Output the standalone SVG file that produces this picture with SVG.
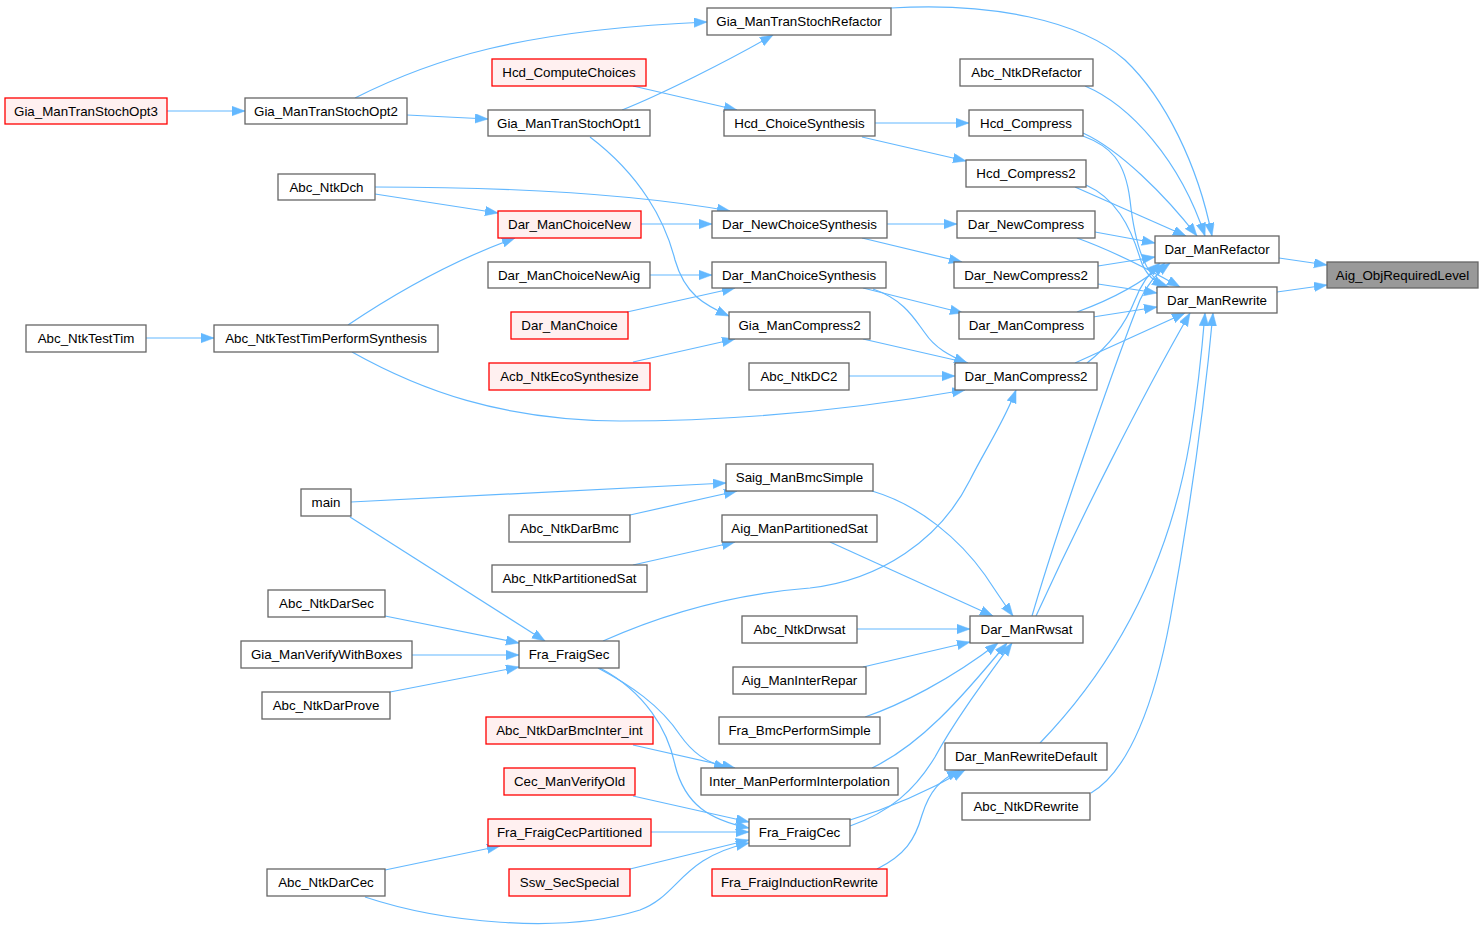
<svg xmlns="http://www.w3.org/2000/svg" width="1483" height="934" viewBox="0 0 1483 934">
<defs>
<style>
.n rect{fill:#ffffff;stroke:#666666;stroke-width:1.3}
.r rect{fill:#fff0f0;stroke:#ff0000;stroke-width:1.3}
.g rect{fill:#999999;stroke:#666666;stroke-width:1.3}
text{font-family:"Liberation Sans",Arial,Helvetica,sans-serif;font-size:13.33px;fill:#000000;text-anchor:middle}
#edges path{fill:none;stroke:#63b8ff;stroke-width:1.2;marker-end:url(#ah)}
</style>
<marker id="ah" markerUnits="userSpaceOnUse" markerWidth="15" markerHeight="11" refX="13" refY="4.75" orient="auto">
<path d="M0,0 L13,4.75 L0,9.5 z" fill="#63b8ff" stroke="#63b8ff" stroke-width="0.5"/>
</marker>
</defs>
<rect width="1483" height="934" fill="#ffffff"/>
<g id="edges">
<path d="M1279,258 L1327,265"/>
<path d="M1277,292 L1327,285"/>
<path d="M891,8 C990,2 1080,20 1125,60 C1165,98 1198,165 1212,236"/>
<path d="M1085,86 C1130,105 1180,160 1205,236"/>
<path d="M1083,133 C1120,150 1165,195 1197,236"/>
<path d="M1083,136 C1110,146 1125,160 1130,200 C1135,245 1145,275 1165,287"/>
<path d="M1075,187 L1186,236"/>
<path d="M1086,185 C1115,198 1130,225 1140,258 C1145,275 1155,283 1170,288"/>
<path d="M1095,232 L1155,243"/>
<path d="M1077,238 C1110,250 1150,270 1180,287"/>
<path d="M1098,266 L1155,257"/>
<path d="M1098,284 L1157,293"/>
<path d="M1077,312 C1110,300 1140,285 1165,263"/>
<path d="M1093,317 L1157,307"/>
<path d="M1087,363 C1110,345 1125,325 1135,300 C1142,282 1150,272 1160,263"/>
<path d="M1075,363 L1185,313"/>
<path d="M1032,616 C1060,520 1120,350 1140,300 C1148,282 1158,272 1170,263"/>
<path d="M1036,616 C1080,520 1140,400 1190,313"/>
<path d="M1040,743 C1120,660 1170,560 1190,440 C1198,390 1202,350 1205,313"/>
<path d="M1091,793 C1130,770 1155,700 1170,620 C1190,510 1205,400 1213,313"/>
<path d="M355,98 C430,60 520,30 707,22"/>
<path d="M407,115 L488,119"/>
<path d="M167,111 L245,111"/>
<path d="M622,110 C660,95 730,60 773,35"/>
<path d="M590,137 C640,175 665,220 675,260 C685,295 705,305 729,316"/>
<path d="M633,86 L737,110"/>
<path d="M875,123 L969,123"/>
<path d="M862,137 L966,161"/>
<path d="M375,187 C520,187 640,195 730,211"/>
<path d="M375,194 L498,213"/>
<path d="M641,224 L712,224"/>
<path d="M348,325 C400,290 460,258 515,238"/>
<path d="M352,352 C420,390 500,420 620,421 C760,421 880,405 965,390"/>
<path d="M146,338 L214,338"/>
<path d="M887,224 L957,224"/>
<path d="M862,238 L962,262"/>
<path d="M650,275 L712,275"/>
<path d="M627,312 L735,288"/>
<path d="M863,288 L963,313"/>
<path d="M873,289 C905,300 915,320 925,333 C935,348 950,356 967,363"/>
<path d="M633,362 L735,339"/>
<path d="M863,339 L968,363"/>
<path d="M849,376 L955,376"/>
<path d="M603,641 C650,620 720,595 810,588 C880,580 940,540 970,480 C985,450 1005,420 1016,390"/>
<path d="M351,502 L726,483"/>
<path d="M350,517 L545,641"/>
<path d="M630,515 L737,491"/>
<path d="M633,565 L735,542"/>
<path d="M872,491 C920,505 960,540 985,575 C995,590 1005,605 1013,616"/>
<path d="M830,542 L993,616"/>
<path d="M857,629 L970,629"/>
<path d="M863,667 L970,642"/>
<path d="M865,717 C900,705 950,680 998,643"/>
<path d="M872,768 C920,745 960,700 1007,643"/>
<path d="M850,826 C890,812 915,790 935,757 C955,720 985,680 1012,643"/>
<path d="M850,820 C890,808 930,790 965,770"/>
<path d="M877,869 C905,855 915,840 922,815 C930,790 940,780 960,770"/>
<path d="M385,616 L519,643"/>
<path d="M412,655 L519,655"/>
<path d="M390,692 L519,667"/>
<path d="M598,668 C630,685 660,705 680,735 C692,752 705,762 727,768"/>
<path d="M600,668 C645,692 668,730 675,765 C685,805 710,820 749,828"/>
<path d="M633,745 L735,768"/>
<path d="M633,796 L749,822"/>
<path d="M651,832 L749,832"/>
<path d="M630,869 L749,840"/>
<path d="M385,870 L500,846"/>
<path d="M365,897 C440,922 560,935 640,910 C680,895 680,858 749,843"/>
</g>
<g id="Aig_ObjRequiredLevel" class="g"><rect x="1327" y="262" width="151" height="26"/><text x="1402.5" y="280">Aig_ObjRequiredLevel</text></g>
<g id="Dar_ManRefactor" class="n"><rect x="1155" y="236" width="124" height="27"/><text x="1217" y="254">Dar_ManRefactor</text></g>
<g id="Dar_ManRewrite" class="n"><rect x="1157" y="287" width="120" height="26"/><text x="1217" y="305">Dar_ManRewrite</text></g>
<g id="Gia_ManTranStochRefactor" class="n"><rect x="707" y="8" width="184" height="27"/><text x="799" y="26">Gia_ManTranStochRefactor</text></g>
<g id="Abc_NtkDRefactor" class="n"><rect x="960" y="59" width="133" height="27"/><text x="1026.5" y="77">Abc_NtkDRefactor</text></g>
<g id="Hcd_Compress" class="n"><rect x="969" y="110" width="114" height="26"/><text x="1026" y="128">Hcd_Compress</text></g>
<g id="Hcd_Compress2" class="n"><rect x="966" y="160" width="120" height="27"/><text x="1026" y="178">Hcd_Compress2</text></g>
<g id="Dar_NewCompress" class="n"><rect x="957" y="211" width="138" height="27"/><text x="1026" y="229">Dar_NewCompress</text></g>
<g id="Dar_NewCompress2" class="n"><rect x="954" y="262" width="144" height="26"/><text x="1026" y="280">Dar_NewCompress2</text></g>
<g id="Dar_ManCompress" class="n"><rect x="959" y="312" width="135" height="27"/><text x="1026.5" y="330">Dar_ManCompress</text></g>
<g id="Dar_ManCompress2" class="n"><rect x="955" y="363" width="142" height="27"/><text x="1026" y="381">Dar_ManCompress2</text></g>
<g id="Dar_ManRwsat" class="n"><rect x="970" y="616" width="113" height="27"/><text x="1026.5" y="634">Dar_ManRwsat</text></g>
<g id="Dar_ManRewriteDefault" class="n"><rect x="945" y="743" width="162" height="27"/><text x="1026" y="761">Dar_ManRewriteDefault</text></g>
<g id="Abc_NtkDRewrite" class="n"><rect x="962" y="793" width="128" height="27"/><text x="1026" y="811">Abc_NtkDRewrite</text></g>
<g id="Gia_ManTranStochOpt2" class="n"><rect x="245" y="98" width="162" height="26"/><text x="326" y="116">Gia_ManTranStochOpt2</text></g>
<g id="Gia_ManTranStochOpt3" class="r"><rect x="5" y="98" width="162" height="26"/><text x="86" y="116">Gia_ManTranStochOpt3</text></g>
<g id="Gia_ManTranStochOpt1" class="n"><rect x="488" y="110" width="162" height="26"/><text x="569" y="128">Gia_ManTranStochOpt1</text></g>
<g id="Gia_ManCompress2" class="n"><rect x="729" y="312" width="141" height="27"/><text x="799.5" y="330">Gia_ManCompress2</text></g>
<g id="Hcd_ComputeChoices" class="r"><rect x="492" y="59" width="154" height="27"/><text x="569" y="77">Hcd_ComputeChoices</text></g>
<g id="Hcd_ChoiceSynthesis" class="n"><rect x="724" y="110" width="151" height="26"/><text x="799.5" y="128">Hcd_ChoiceSynthesis</text></g>
<g id="Abc_NtkDch" class="n"><rect x="278" y="174" width="97" height="26"/><text x="326.5" y="192">Abc_NtkDch</text></g>
<g id="Dar_NewChoiceSynthesis" class="n"><rect x="712" y="211" width="175" height="27"/><text x="799.5" y="229">Dar_NewChoiceSynthesis</text></g>
<g id="Dar_ManChoiceNew" class="r"><rect x="498" y="211" width="143" height="27"/><text x="569.5" y="229">Dar_ManChoiceNew</text></g>
<g id="Abc_NtkTestTimPerformSynthesis" class="n"><rect x="214" y="325" width="224" height="27"/><text x="326" y="343">Abc_NtkTestTimPerformSynthesis</text></g>
<g id="Abc_NtkTestTim" class="n"><rect x="26" y="325" width="120" height="27"/><text x="86" y="343">Abc_NtkTestTim</text></g>
<g id="Dar_ManChoiceNewAig" class="n"><rect x="488" y="262" width="162" height="26"/><text x="569" y="280">Dar_ManChoiceNewAig</text></g>
<g id="Dar_ManChoiceSynthesis" class="n"><rect x="712" y="262" width="174" height="26"/><text x="799" y="280">Dar_ManChoiceSynthesis</text></g>
<g id="Dar_ManChoice" class="r"><rect x="511" y="312" width="117" height="27"/><text x="569.5" y="330">Dar_ManChoice</text></g>
<g id="Acb_NtkEcoSynthesize" class="r"><rect x="489" y="363" width="161" height="27"/><text x="569.5" y="381">Acb_NtkEcoSynthesize</text></g>
<g id="Abc_NtkDC2" class="n"><rect x="749" y="363" width="100" height="27"/><text x="799" y="381">Abc_NtkDC2</text></g>
<g id="Fra_FraigSec" class="n"><rect x="519" y="641" width="100" height="27"/><text x="569" y="659">Fra_FraigSec</text></g>
<g id="main" class="n"><rect x="301" y="489" width="50" height="27"/><text x="326" y="507">main</text></g>
<g id="Saig_ManBmcSimple" class="n"><rect x="726" y="464" width="147" height="27"/><text x="799.5" y="482">Saig_ManBmcSimple</text></g>
<g id="Abc_NtkDarBmc" class="n"><rect x="509" y="515" width="121" height="27"/><text x="569.5" y="533">Abc_NtkDarBmc</text></g>
<g id="Aig_ManPartitionedSat" class="n"><rect x="722" y="515" width="155" height="27"/><text x="799.5" y="533">Aig_ManPartitionedSat</text></g>
<g id="Abc_NtkPartitionedSat" class="n"><rect x="492" y="565" width="155" height="27"/><text x="569.5" y="583">Abc_NtkPartitionedSat</text></g>
<g id="Abc_NtkDrwsat" class="n"><rect x="742" y="616" width="115" height="27"/><text x="799.5" y="634">Abc_NtkDrwsat</text></g>
<g id="Aig_ManInterRepar" class="n"><rect x="733" y="667" width="133" height="27"/><text x="799.5" y="685">Aig_ManInterRepar</text></g>
<g id="Fra_BmcPerformSimple" class="n"><rect x="719" y="717" width="161" height="27"/><text x="799.5" y="735">Fra_BmcPerformSimple</text></g>
<g id="Inter_ManPerformInterpolation" class="n"><rect x="701" y="768" width="197" height="27"/><text x="799.5" y="786">Inter_ManPerformInterpolation</text></g>
<g id="Fra_FraigCec" class="n"><rect x="749" y="819" width="101" height="27"/><text x="799.5" y="837">Fra_FraigCec</text></g>
<g id="Fra_FraigInductionRewrite" class="r"><rect x="712" y="869" width="175" height="27"/><text x="799.5" y="887">Fra_FraigInductionRewrite</text></g>
<g id="Abc_NtkDarSec" class="n"><rect x="268" y="590" width="117" height="27"/><text x="326.5" y="608">Abc_NtkDarSec</text></g>
<g id="Gia_ManVerifyWithBoxes" class="n"><rect x="241" y="641" width="171" height="27"/><text x="326.5" y="659">Gia_ManVerifyWithBoxes</text></g>
<g id="Abc_NtkDarProve" class="n"><rect x="262" y="692" width="128" height="27"/><text x="326" y="710">Abc_NtkDarProve</text></g>
<g id="Abc_NtkDarBmcInter_int" class="r"><rect x="486" y="717" width="167" height="27"/><text x="569.5" y="735">Abc_NtkDarBmcInter_int</text></g>
<g id="Cec_ManVerifyOld" class="r"><rect x="504" y="768" width="131" height="27"/><text x="569.5" y="786">Cec_ManVerifyOld</text></g>
<g id="Fra_FraigCecPartitioned" class="r"><rect x="488" y="819" width="163" height="27"/><text x="569.5" y="837">Fra_FraigCecPartitioned</text></g>
<g id="Ssw_SecSpecial" class="r"><rect x="509" y="869" width="121" height="27"/><text x="569.5" y="887">Ssw_SecSpecial</text></g>
<g id="Abc_NtkDarCec" class="n"><rect x="267" y="869" width="118" height="27"/><text x="326" y="887">Abc_NtkDarCec</text></g>
</svg>
